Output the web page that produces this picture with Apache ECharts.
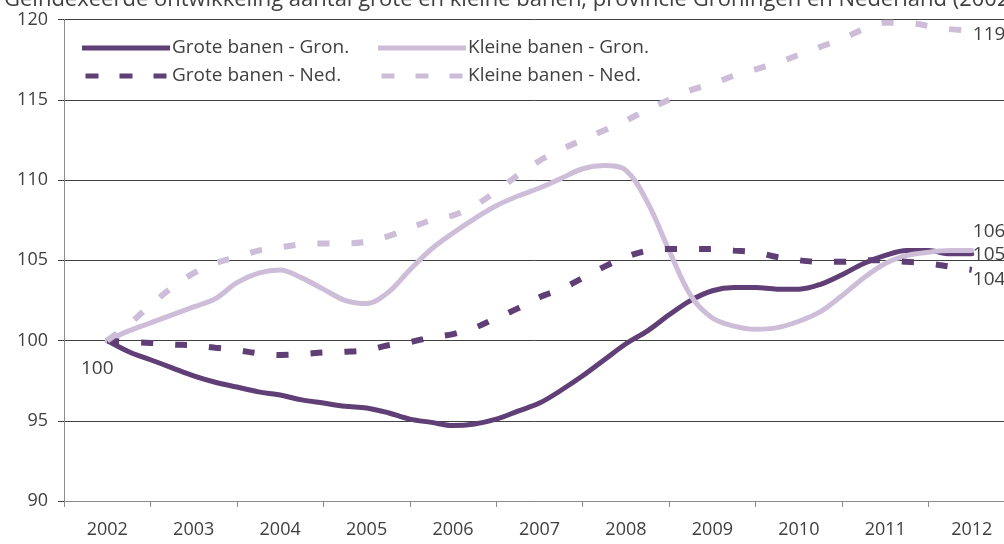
<!DOCTYPE html>
<html>
<head>
<meta charset="utf-8">
<script src="https://cdn.jsdelivr.net/npm/echarts@6/dist/echarts.min.js"></script>
<style>
html,body{margin:0;padding:0;background:#fff;}
#c{width:1004px;height:544px;}
</style>
</head>
<body>
<div id="c"></div>
<script>
const years = ['2002','2003','2004','2005','2006','2007','2008','2009','2010','2011','2012'];
const yTicks = [90, 95, 100, 105, 110, 115, 120];
const titleText = 'Geïndexeerde ontwikkeling aantal grote en kleine banen, provincie Groningen en Nederland (2002=100)';
const seriesNames = ['Grote banen - Gron.', 'Kleine banen - Gron.', 'Grote banen - Ned.', 'Kleine banen - Ned.'];
// quarterly index values, 2002 Q1 .. 2012 Q1 (41 points)
const groteGron = [100.0, 99.3, 98.8, 98.3, 97.8, 97.4, 97.1, 96.8, 96.6, 96.3, 96.1, 95.9, 95.8, 95.5, 95.1, 94.9, 94.7, 94.8, 95.1, 95.6, 96.1, 96.9, 97.8, 98.8, 99.8, 100.6, 101.6, 102.5, 103.1, 103.3, 103.3, 103.2, 103.2, 103.5, 104.1, 104.8, 105.3, 105.6, 105.6, 105.4, 105.4];
const kleineGron = [100.0, 100.6, 101.1, 101.6, 102.1, 102.6, 103.6, 104.2, 104.4, 103.9, 103.2, 102.5, 102.3, 103.0, 104.4, 105.7, 106.7, 107.6, 108.4, 109.0, 109.5, 110.1, 110.7, 110.9, 110.6, 108.6, 105.6, 102.8, 101.4, 100.9, 100.7, 100.8, 101.2, 101.8, 102.8, 103.9, 104.8, 105.3, 105.5, 105.6, 105.6];
const groteNed = [100.0, 99.9, 99.85, 99.75, 99.7, 99.55, 99.4, 99.2, 99.1, 99.15, 99.25, 99.3, 99.4, 99.7, 99.9, 100.2, 100.4, 100.8, 101.4, 102.0, 102.7, 103.2, 103.9, 104.6, 105.2, 105.6, 105.7, 105.7, 105.7, 105.6, 105.5, 105.2, 105.0, 104.9, 104.9, 105.0, 105.0, 104.9, 104.8, 104.6, 104.4];
const kleineNed = [100.0, 101.0, 102.2, 103.3, 104.2, 104.8, 105.2, 105.6, 105.8, 106.0, 106.05, 106.05, 106.15, 106.5, 107.0, 107.5, 107.8, 108.4, 109.3, 110.3, 111.2, 111.9, 112.5, 113.1, 113.7, 114.4, 115.0, 115.6, 116.0, 116.5, 116.9, 117.3, 117.8, 118.3, 118.8, 119.4, 119.8, 119.8, 119.6, 119.4, 119.3];

const DARK = '#603e76';
const LIGHT = '#cdbdd9';
const TXT = '#404040';
const FONT = 'Open Sans';
const ICON_SOLID = 'path://M0,0H88V5H0Z';
const ICON_DASH = 'path://M0,0H13V5H0Z M34,0H47V5H34Z M68,0H81V5H68Z';

function toXY(arr) { return arr.map((v, i) => [2 + i, v]); }
function labelOpt(position, distance, offset) {
  return { show: true, position: position, distance: distance, offset: offset,
    formatter: p => String(Math.round(p.value[1])), color: TXT, fontFamily: FONT, fontSize: 19 };
}
function withLast(arr, offset) {
  const d = toXY(arr);
  const n = d.length - 1;
  d[n] = { value: d[n], label: labelOpt('right', 1, offset) };
  return d;
}

const gg = withLast(groteGron, [0, 1]);
gg[0] = { value: gg[0], label: labelOpt('bottom', 19, [-10, 0]) };

function mkSeries(name, data, color, dashed) {
  return {
    name: name, type: 'line', xAxisIndex: 1, data: data, smooth: 0.35,
    symbol: 'circle', symbolSize: 0, showSymbol: true, showAllSymbol: true,
    label: { show: false },
    animation: false,
    lineStyle: { color: color, width: dashed ? 6 : 5, type: dashed ? [12, 22] : 'solid', cap: dashed ? 'butt' : 'round' },
    itemStyle: { color: color }
  };
}

const legendText = { color: TXT, fontFamily: FONT, fontSize: 19, lineHeight: 20, padding: [0, 0, 0, -3] };

const chart = echarts.init(document.getElementById('c'), null, { renderer: 'canvas' });
chart.setOption({
  animation: false,
  backgroundColor: '#fff',
  title: { text: titleText, left: -1, top: -16, textStyle: { color: TXT, fontFamily: FONT, fontSize: 22, fontWeight: 'normal' } },
  legend: [
    { data: [{ name: seriesNames[0], icon: ICON_SOLID }, { name: seriesNames[2], icon: ICON_DASH }],
      orient: 'vertical', left: 77, top: 33, itemWidth: 88, itemHeight: 5, itemGap: 8, textStyle: legendText },
    { data: [{ name: seriesNames[1], icon: ICON_SOLID }, { name: seriesNames[3], icon: ICON_DASH }],
      orient: 'vertical', left: 373, top: 33, itemWidth: 88, itemHeight: 5, itemGap: 8, textStyle: legendText }
  ],
  grid: { left: 64, width: 951, top: 19.5, height: 481.5, containLabel: false, outerBoundsMode: 'none' },
  xAxis: [
    { type: 'category', data: years, boundaryGap: true, position: 'bottom',
      axisLine: { lineStyle: { color: '#8c8c8c', width: 1 } },
      axisTick: { show: true, length: 6, interval: 0, lineStyle: { color: '#8c8c8c' } },
      axisLabel: { color: TXT, fontFamily: FONT, fontSize: 18, margin: 20, interval: 0 },
      splitLine: { show: false } },
    { type: 'value', min: 0, max: 44, show: false }
  ],
  yAxis: { type: 'value', min: yTicks[0], max: yTicks[yTicks.length - 1], interval: 5,
    axisLine: { show: true, lineStyle: { color: '#8c8c8c', width: 1 } },
    axisTick: { show: true, length: 6, lineStyle: { color: '#404040' } },
    axisLabel: { color: TXT, fontFamily: FONT, fontSize: 18, margin: 16 },
    splitLine: { show: true, lineStyle: { color: '#404040', width: 1 } } },
  series: [
    mkSeries(seriesNames[0], gg, DARK, false),
    mkSeries(seriesNames[1], withLast(kleineGron, [0, -19]), LIGHT, false),
    mkSeries(seriesNames[2], withLast(groteNed, [0, 10]), DARK, true),
    mkSeries(seriesNames[3], withLast(kleineNed, [0, 4]), LIGHT, true)
  ]
});
</script>
</body>
</html>
